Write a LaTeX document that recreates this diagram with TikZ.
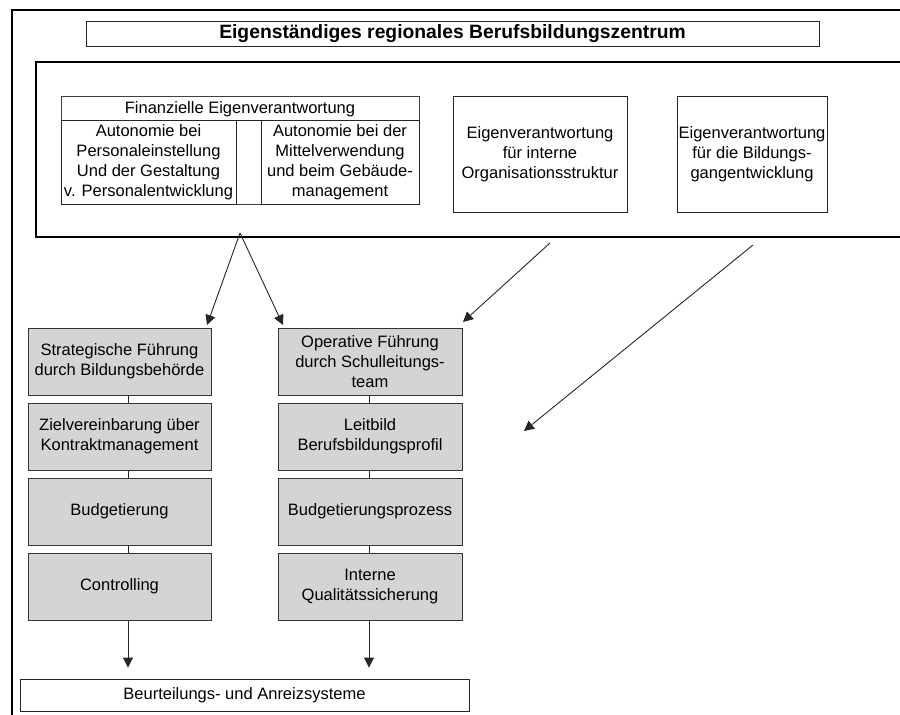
\documentclass[tikz,border=0pt]{standalone}
\usepackage{fontspec}
\setmainfont{Liberation Sans}
\usetikzlibrary{arrows.meta}

\tikzset{
  txt/.style={font=\fontsize{16.5}{20}\selectfont, align=center, inner sep=0pt},
  plainbox/.style={txt, draw=black!85, line width=0.9pt, fill=white},
  graybox/.style={txt, draw=black!80, line width=1pt, fill=black!17,
                  minimum height=67pt},
  link/.style={draw=black!85, line width=0.9pt},
  arrowline/.style={link, -{Triangle[length=10pt,width=10pt]}},
}

\begin{document}
\begin{tikzpicture}[x=1pt, y=-1pt]
  \useasboundingbox (0,0) rectangle (900,715);

  % page frame (top and left edge)
  \draw[line width=2.5pt] (12,715) -- (12,10) -- (900,10);

  % title
  \node[plainbox, minimum width=733pt, minimum height=25pt,
        font=\fontsize{19.3}{22}\selectfont\bfseries] (title) at (452.5,33.5)
        {Eigenständiges regionales Berufsbildungszentrum};

  % large frame holding the responsibilities (open to the right)
  \draw[line width=1.1pt] (900,62) -- (36,62) -- (36,237) -- (900,237);

  % financial responsibility block
  \draw[draw=black!75, line width=0.9pt] (61,96) rectangle (419,204);
  \node[txt] (fin) at (240,109) {Finanzielle Eigenverantwortung};
  \draw[draw=black!85, line width=0.9pt] (61,120) -- (419,120);
  \node[plainbox, minimum width=175pt, minimum height=84pt] (finL) at (148.5,162)
        {Autonomie bei\\Personaleinstellung\\Und der Gestaltung\\v. Personalentwicklung};
  \node[plainbox, minimum width=158pt, minimum height=84pt] (finR) at (340,162)
        {Autonomie bei der\\Mittelverwendung\\und beim Gebäude-\\management};

  \node[plainbox, minimum width=174pt, minimum height=116pt] (org) at (540,154)
        {Eigenverantwortung\\für interne\\Organisationsstruktur};
  \node[plainbox, minimum width=150pt, minimum height=116pt] (bild) at (752,154)
        {Eigenverantwortung\\für die Bildungs-\\gangentwicklung};

  % strategic column
  \node[graybox, minimum width=183pt] (s1) at (119.5,361.5)
        {Strategische Führung\\durch Bildungsbehörde};
  \node[graybox, minimum width=183pt] (s2) at (119.5,436.5)
        {Zielvereinbarung über\\Kontraktmanagement};
  \node[graybox, minimum width=183pt] (s3) at (119.5,511.5) {Budgetierung};
  \node[graybox, minimum width=183pt] (s4) at (119.5,586.5) {Controlling};

  % operative column
  \node[graybox, minimum width=184pt] (o1) at (370,361.5)
        {Operative Führung\\durch Schulleitungs-\\team};
  \node[graybox, minimum width=184pt] (o2) at (370,436.5)
        {Leitbild\\Berufsbildungsprofil};
  \node[graybox, minimum width=184pt] (o3) at (370,511.5) {Budgetierungsprozess};
  \node[graybox, minimum width=184pt] (o4) at (370,586.5)
        {Interne\\Qualitätssicherung};

  % result
  \node[plainbox, minimum width=449pt, minimum height=32pt] (res) at (244.5,695)
        {Beurteilungs- und Anreizsysteme};

  % column connector positions
  \coordinate (lx) at (128,0);
  \coordinate (rx) at (369,0);

  \draw[link] (s1.south -| lx) -- (s2.north -| lx);
  \draw[link] (s2.south -| lx) -- (s3.north -| lx);
  \draw[link] (s3.south -| lx) -- (s4.north -| lx);
  \draw[link] (o1.south -| rx) -- (o2.north -| rx);
  \draw[link] (o2.south -| rx) -- (o3.north -| rx);
  \draw[link] (o3.south -| rx) -- (o4.north -| rx);

  \draw[arrowline, shorten >=11pt] (s4.south -| lx) -- (res.north -| lx);
  \draw[arrowline, shorten >=11pt] (o4.south -| rx) -- (res.north -| rx);

  % arrows leaving the responsibility frame
  \coordinate (split) at (240,233);
  \coordinate (tipS) at (207,325);
  \coordinate (tipO) at (283,325);
  \coordinate (orgStart) at (550,243);
  \coordinate (tipOrg) at (463,322);
  \coordinate (bildStart) at (753,245);
  \coordinate (tipBild) at (524,431);

  \draw[arrowline] (split) -- (tipS);
  \draw[arrowline] (split) -- (tipO);
  \draw[arrowline] (orgStart) -- (tipOrg);
  \draw[arrowline] (bildStart) -- (tipBild);
\end{tikzpicture}
\end{document}
